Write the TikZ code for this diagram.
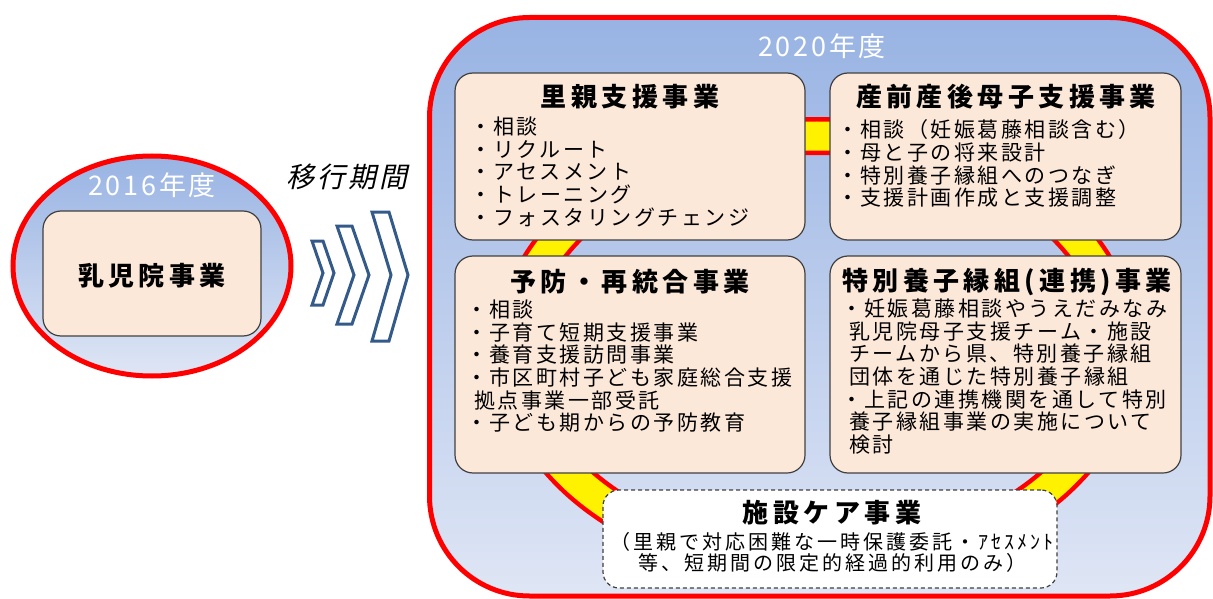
\documentclass[tikz,border=0pt]{standalone}
\usepackage{fontspec}
\newfontfamily\jp[LetterSpace=15]{Noto Sans CJK JP}
\newfontfamily\jpb[LetterSpace=12]{Noto Sans CJK JP}
\newfontfamily\jpt[LetterSpace=17]{Noto Sans CJK JP}
\newfontfamily\jpw[LetterSpace=10]{Noto Sans CJK JP}
\newfontfamily\jpit[LetterSpace=11,FakeSlant=0.22]{Noto Sans CJK JP}
\definecolor{peach}{RGB}{252,232,217}
\definecolor{bluetop}{RGB}{152,179,227}
\definecolor{bluebot}{RGB}{223,230,245}
\definecolor{chevblue}{RGB}{52,90,138}
\newcommand\bl{\hbox to 15pt{\kern-8pt ・\hss}}
\tikzset{
  box/.style={draw=black!75, line width=1.2pt, fill=peach, rounded corners=18pt, inner sep=0pt},
  dbox/.style={draw=black!75, dash pattern=on 4pt off 3pt, line width=1.2pt, fill=white, rounded corners=16pt, inner sep=0pt},
  ttl/.style={font={\jpt\bfseries\fontsize{26}{30}\selectfont}, inner sep=0pt},
  body/.style={font={\jpb\fontsize{21}{22.7}\selectfont}, align=left, inner sep=0pt, anchor=north west},
  year/.style={font={\jpw\fontsize{27}{30}\selectfont}, text=white, inner sep=0pt},
  chev/.style={draw=chevblue, line width=3pt, line join=miter},
}
\begin{document}
\begin{tikzpicture}[x=1pt,y=-1pt]
\useasboundingbox (0,0) rectangle (1213,599);
% left ellipse
\draw[draw=red, line width=5pt, top color=bluetop, bottom color=bluebot] (152,266) ellipse [x radius=139, y radius=110];
\node[year] (y2016) at (152,185) {2016年度};
\node[box, minimum width=218, minimum height=125] (nyuji) at (152,273.5) {};
\node[ttl] (nyujit) at (152,276) {乳児院事業};
% transition
\node[font={\jpit\fontsize{28}{32}\selectfont}, inner sep=0pt] (ikou) at (347,177) {移行期間};
\draw[chev] (312,241) -- (323,241) -- (334,273) -- (323,305) -- (312,305) -- (323,273) -- cycle;
\draw[chev] (337,226) -- (352,226) -- (369,275) -- (352,324) -- (337,324) -- (354,275) -- cycle;
\draw[chev] (372,212) -- (389,212) -- (408,275) -- (389,341) -- (372,341) -- (391,275) -- cycle;
% big box
\draw[draw=red, line width=5pt, top color=bluetop, bottom color=bluebot, rounded corners=100pt] (429.5,17.5) rectangle (1210,596);
\node[year] (y2020) at (822,46) {2020年度};
% ring
\draw[red, line width=38pt] (817,350) ellipse [x radius=303, y radius=214];
\draw[yellow, line width=29pt] (817,350) ellipse [x radius=303, y radius=214];
% boxes
\node[box, minimum width=350, minimum height=167] (tl) at (630,156.5) {};
\node[box, minimum width=351, minimum height=167] (tr) at (1005.5,156.5) {};
\node[box, minimum width=350, minimum height=217] (bl) at (630,364.5) {};
\node[box, minimum width=351, minimum height=217] (br) at (1005.5,364.5) {};
\node[dbox, minimum width=454, minimum height=98] (care) at (830,539) {};
% titles
\node[ttl] (tlt) at (630,97) {里親支援事業};
\node[ttl] (trt) at (1006,97) {産前産後母子支援事業};
\node[ttl] (blt) at (630,282) {予防・再統合事業};
\node[ttl] (brt) at (1007,282) {特別養子縁組(連携)事業};
\node[ttl] (caret) at (832,513) {施設ケア事業};
% bodies
\node[body] (tlb) at (478,116.5) {\bl 相談\\\bl リクルート\\\bl アセスメント\\\bl トレーニング\\\bl フォスタリングチェンジ};
\node[body] (trb) at (845,119.5) {\bl 相談（妊娠葛藤相談含む）\\\bl 母と子の将来設計\\\bl 特別養子縁組へのつなぎ\\\bl 支援計画作成と支援調整};
\node[body] (blb) at (474,299.5) {\bl 相談\\\bl 子育て短期支援事業\\\bl 養育支援訪問事業\\\bl 市区町村子ども家庭総合支援\\拠点事業一部受託\\\bl 子ども期からの予防教育};
\node[body] (brb) at (849,298.5) {\bl 妊娠葛藤相談やうえだみなみ\\乳児院母子支援チーム・施設\\チームから県、特別養子縁組\\団体を通じた特別養子縁組\\\bl 上記の連携機関を通して特別\\養子縁組事業の実施について\\検討};
\node[font={\jp\fontsize{20}{21}\selectfont}, align=center, inner sep=0pt] (careb) at (832,552.5) {（里親で対応困難な一時保護委託・ｱｾｽﾒﾝﾄ\\等、短期間の限定的経過的利用のみ）};
\end{tikzpicture}
\end{document}
